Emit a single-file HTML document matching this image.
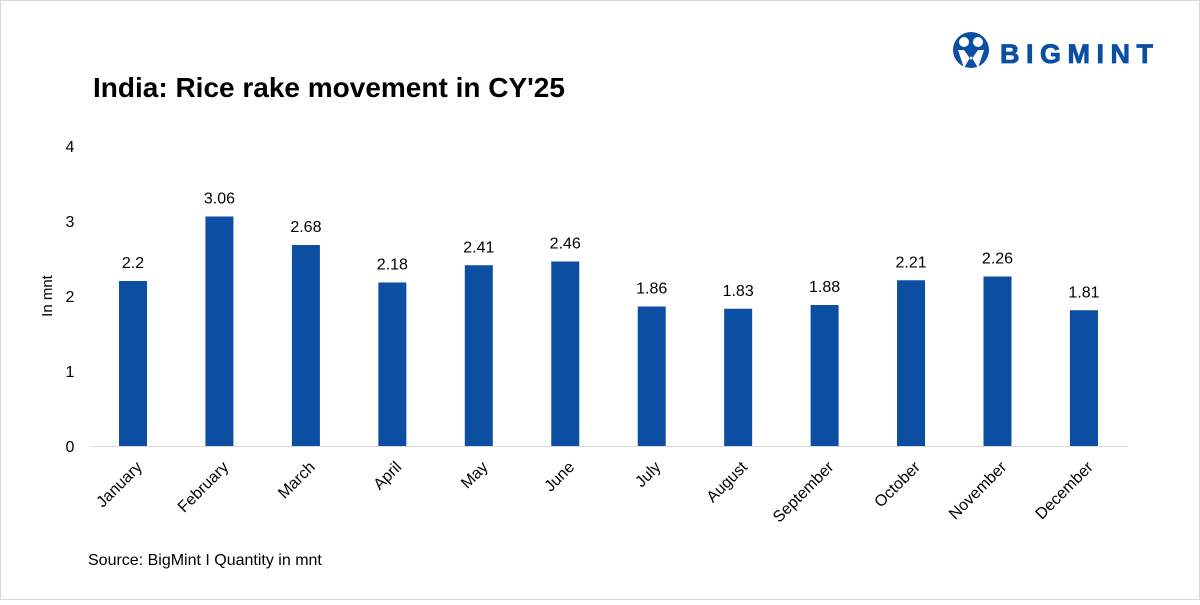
<!DOCTYPE html>
<html><head><meta charset="utf-8"><style>
html,body{margin:0;padding:0;background:#fff;}
body{width:1200px;height:600px;overflow:hidden;font-family:"Liberation Sans",sans-serif;}
</style></head><body>
<svg width="1200" height="600" xmlns="http://www.w3.org/2000/svg" id="chart">
<rect x="0.5" y="0.5" width="1199" height="599" fill="#fff" stroke="#d9d9d9"/>
<g>
<circle cx="971" cy="50" r="18" fill="#0b4ea2"/>
<circle cx="964" cy="42" r="5" fill="#fff"/>
<circle cx="978" cy="42" r="5" fill="#fff"/>
<path d="M958 50 L964 68 L971 56 L978 68 L984 50 L978 50 L971 60 L964 50 Z" fill="#fff"/>
<text x="1000" y="63" font-size="27" font-weight="900" fill="#0b4ea2" letter-spacing="6.5" stroke="#0b4ea2" stroke-width="0.8">BIGMINT</text>
</g>
<text x="93" y="97" font-size="28" font-weight="bold" fill="#000">India: Rice rake movement in CY'25</text>
<text x="88" y="565" font-size="16" fill="#000">Source: BigMint I Quantity in mnt</text>
<text transform="translate(52,296) rotate(-90)" text-anchor="middle" font-size="15" fill="#000">In mnt</text>
<g id="yaxis"></g>
<g id="bars"></g>
<g id="xaxis"></g>
<line x1="90" y1="446.5" x2="1127" y2="446.5" stroke="#d9d9d9"/>
</svg>
<script>
const categories=["January","February","March","April","May","June","July","August","September","October","November","December"];
const values=[2.2,3.06,2.68,2.18,2.41,2.46,1.86,1.83,1.88,2.21,2.26,1.81];
const valueLabels=["2.2","3.06","2.68","2.18","2.41","2.46","1.86","1.83","1.88","2.21","2.26","1.81"];
const yTicks=[0,1,2,3,4];
const NS="http://www.w3.org/2000/svg";
const y=v=>446-v*75;
const x=i=>133+i*86.45;
function mk(t,a,p){const e=document.createElementNS(NS,t);for(const k in a)e.setAttribute(k,a[k]);p.appendChild(e);return e;}
const ya=document.getElementById('yaxis'),bg=document.getElementById('bars'),xa=document.getElementById('xaxis');
yTicks.forEach(t=>{const e=mk('text',{x:70,y:y(t)+6,'text-anchor':'middle','font-size':16,fill:'#000'},ya);e.textContent=t;

});
categories.forEach((c,i)=>{
const r=mk('rect',{x:x(i)-14,y:y(values[i]),width:28,height:446-y(values[i]),fill:'#0b4ea2'},bg);


const l=mk('text',{x:x(i),y:y(values[i])-13,'text-anchor':'middle','font-size':16,fill:'#000'},bg);l.textContent=valueLabels[i];


const t=mk('text',{transform:`translate(${x(i)+10},468) rotate(-45)`,'text-anchor':'end','font-size':16,fill:'#000'},xa);t.textContent=c;


});
</script>
</body></html>
